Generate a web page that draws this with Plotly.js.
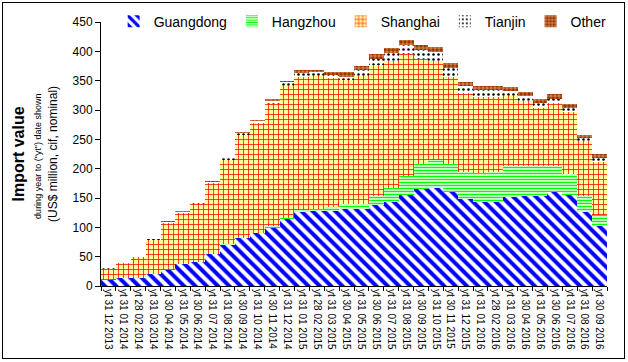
<!DOCTYPE html>
<html>
<head>
<meta charset="utf-8">
<script src="https://cdn.plot.ly/plotly-3.0.1.min.js"></script>
<style>
html,body{margin:0;padding:0;background:#fff;}
#chart{width:628px;height:362px;position:absolute;left:0;top:0;}
#frame{position:absolute;left:2px;top:2px;width:621px;height:355px;border:1px solid #000;pointer-events:none;}
</style>
</head>
<body>
<div id="chart"></div>
<div id="frame"></div>
<script>
const categories = [
  "yt 31 12 2013","yt 31 01 2014","yt 28 02 2014","yt 31 03 2014","yt 30 04 2014","yt 31 05 2014",
  "yt 30 06 2014","yt 31 07 2014","yt 31 08 2014","yt 30 09 2014","yt 31 10 2014","yt 30 11 2014",
  "yt 31 12 2014","yt 31 01 2015","yt 28 02 2015","yt 31 03 2015","yt 30 04 2015","yt 31 05 2015",
  "yt 30 06 2015","yt 31 07 2015","yt 31 08 2015","yt 30 09 2015","yt 31 10 2015","yt 30 11 2015",
  "yt 31 12 2015","yt 31 01 2016","yt 28 02 2016","yt 31 03 2016","yt 30 04 2016","yt 31 05 2016",
  "yt 30 06 2016","yt 31 07 2016","yt 31 08 2016","yt 30 09 2016"
];
const guangdong = [10,14,14,20.5,27,37.5,41.5,54.5,70,82,90,99.5,114,126.5,128,128,131,131,138,143.5,155,165,167.5,160.5,148,143.5,143.5,152,154,154,159.5,155,126.5,102];
const hangzhou  = [0,0,0,0,0,0,0,0,1,0,0,2,2,3,4,7,9,9,15.5,23,33,43,47.5,47.5,47,48.5,50,53,51,51,45.5,36,27,19];
const shanghai  = [19,25,35,58.5,80,86.5,98.5,120.5,144,175,187,209.5,225,227.5,226.5,219,211,218.5,223.5,217,207.5,179,168.5,149,133.5,130.5,129,119,110,99,106.5,106,93.5,90];
const tianjin   = [1,1.5,1.5,1.5,2,2.5,2.5,3,2.5,3,5,4,6,5.5,5.5,5,6,9.5,10,13,15.5,15,16,15,13,11.5,11.5,8.5,9.5,8.5,7,7,4.5,6.5];
const other     = [0,0,0,0,1,1,0.5,1,0.5,2,1,3,2,5,5,5,8,7.5,8,8.5,8,8,7.5,7.5,6.5,7.5,7.5,7.5,5.5,6,9,6,6,7.5];
const yTicks = [0,50,100,150,200,250,300,350,400,450];

const font = "Arial, 'Liberation Sans', sans-serif";
function tr(name, y, pattern) {
  return {type:"bar", name:name, x:categories, y:y,
    marker:{color:pattern.bgcolor, pattern:pattern, line:{width:0}}};
}
const traces = [
  tr("Guangdong", guangdong, {shape:"\\", fgcolor:"#0000FF", bgcolor:"#FFFFFF", fgopacity:1, size:8, solidity:0.5, fillmode:"overlay"}),
  tr("Hangzhou", hangzhou, {shape:"-", fgcolor:"#00FF00", bgcolor:"#FFFFFF", fgopacity:1, size:3, solidity:0.5, fillmode:"overlay"}),
  tr("Shanghai", shanghai, {shape:"+", fgcolor:"#FF0000", bgcolor:"#FFFF99", fgopacity:1, size:5, solidity:0.28, fillmode:"overlay"}),
  tr("Tianjin", tianjin, {shape:".", fgcolor:"#000000", bgcolor:"#FFFFFF", fgopacity:1, size:5, solidity:0.2, fillmode:"overlay"}),
  tr("Other", other, {shape:"+", fgcolor:"#FFCC99", bgcolor:"#993300", fgopacity:1, size:4, solidity:0.25, fillmode:"overlay"})
];

const layout = {
  width:628, height:362,
  margin:{l:101, r:21, t:22, b:76, autoexpand:false},
  paper_bgcolor:"#FFFFFF", plot_bgcolor:"#FFFFFF",
  barmode:"stack", bargap:0,
  font:{family:font, color:"#000"},
  showlegend:true,
  legend:{orientation:"h", x:0.025, xanchor:"left", y:1.001, yanchor:"middle",
    traceorder:"normal", font:{size:14, family:font}, bgcolor:"rgba(255,255,255,0)",
    itemwidth:30, tracegroupgap:0},
  xaxis:{type:"category", tickangle:90, tickfont:{size:10, family:font},
    showline:true, linecolor:"#000", linewidth:1, ticks:"outside", ticklen:4,
    tickcolor:"#000", tickson:"boundaries", showgrid:false, zeroline:false, fixedrange:true},
  yaxis:{range:[0,450], tickvals:yTicks, tickfont:{size:12, family:font},
    showline:true, linecolor:"#000", linewidth:1, ticks:"outside", ticklen:5,
    tickcolor:"#000", showgrid:false, zeroline:false, title:{text:""}},
  annotations:[
    {xref:"paper", yref:"paper", x:-0.165, y:0.5, xanchor:"center", yanchor:"middle", textangle:-90,
      text:"<b>Import value</b>", showarrow:false, font:{size:16, family:font}},
    {xref:"paper", yref:"paper", x:-0.126, y:0.49, xanchor:"center", yanchor:"middle", textangle:-90,
      text:"during year to (\"yt\") date shown", showarrow:false, font:{size:9, family:font}},
    {xref:"paper", yref:"paper", x:-0.095, y:0.5, xanchor:"center", yanchor:"middle", textangle:-90,
      text:"(US$ million, cif, nominal)", showarrow:false, font:{size:12, family:font}}
  ]
};
Plotly.newPlot("chart", traces, layout, {displayModeBar:false, staticPlot:true});
</script>
</body>
</html>
